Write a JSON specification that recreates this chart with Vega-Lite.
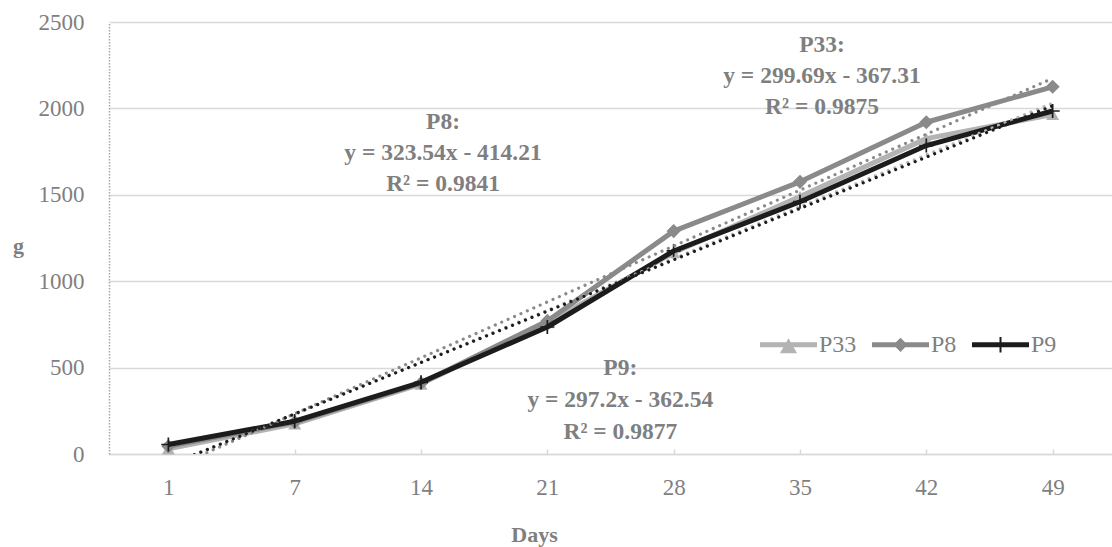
{
  "$schema": "https://vega.github.io/schema/vega-lite/v6.json",
  "autosize": {"type": "none"},
  "width": 1003,
  "height": 432,
  "padding": {"left": 109, "top": 22, "right": 0, "bottom": 93},
  "background": "white",
  "config": {
    "view": {"stroke": null},
    "font": "Liberation Serif"
  },
  "datasets": {
    "obs": [
      {"series": "P33", "day": 1, "value": 30},
      {"series": "P33", "day": 7, "value": 175},
      {"series": "P33", "day": 14, "value": 405},
      {"series": "P33", "day": 21, "value": 760},
      {"series": "P33", "day": 28, "value": 1165},
      {"series": "P33", "day": 35, "value": 1490},
      {"series": "P33", "day": 42, "value": 1825},
      {"series": "P33", "day": 49, "value": 1965},
      {"series": "P8", "day": 1, "value": 45},
      {"series": "P8", "day": 7, "value": 185},
      {"series": "P8", "day": 14, "value": 410},
      {"series": "P8", "day": 21, "value": 770},
      {"series": "P8", "day": 28, "value": 1290},
      {"series": "P8", "day": 35, "value": 1575},
      {"series": "P8", "day": 42, "value": 1920},
      {"series": "P8", "day": 49, "value": 2125},
      {"series": "P9", "day": 1, "value": 55},
      {"series": "P9", "day": 7, "value": 190},
      {"series": "P9", "day": 14, "value": 415},
      {"series": "P9", "day": 21, "value": 735},
      {"series": "P9", "day": 28, "value": 1175},
      {"series": "P9", "day": 35, "value": 1460},
      {"series": "P9", "day": 42, "value": 1785},
      {"series": "P9", "day": 49, "value": 1985}
    ],
    "trend": [
      {"series": "P33", "day": 1, "value": -67.62},
      {"series": "P33", "day": 49, "value": 2030.21},
      {"series": "P8", "day": 1, "value": -90.67},
      {"series": "P8", "day": 49, "value": 2174.11},
      {"series": "P9", "day": 1, "value": -65.34},
      {"series": "P9", "day": 49, "value": 2015.06}
    ],
    "notes": [
      {"series": "P8", "day": 14, "value": 1921, "label": "P8:\ny = 323.54x - 414.21\nR² = 0.9841"},
      {"series": "P33", "day": 35, "value": 2367, "label": "P33:\ny = 299.69x - 367.31\nR² = 0.9875"},
      {"series": "P9", "day": 21, "value": 498, "label": "P9:\ny  = 297.2x - 362.54\nR² = 0.9877"}
    ]
  },
  "encoding": {
    "x": {
      "field": "day", "type": "ordinal",
      "scale": {"type": "point", "domain": [1, 7, 14, 21, 28, 35, 42, 49], "padding": 0.47},
      "axis": {
        "labelAngle": 0, "labelFontSize": 23, "labelColor": "#7f7f7f", "labelFont": "Liberation Serif",
        "labelPadding": 27, "tickSize": -5, "tickColor": "#d9d9d9", "tickWidth": 1.5,
        "domainColor": "#d9d9d9", "domainWidth": 1.5, "grid": false,
        "title": "Days", "titleFont": "Liberation Serif", "titleFontSize": 22, "titleFontWeight": "bold",
        "titleColor": "#7f7f7f", "titleX": 425, "titleY": 80, "titleBaseline": "middle", "titleAlign": "center"
      }
    },
    "y": {
      "field": "value", "type": "quantitative",
      "scale": {"domain": [0, 2500], "nice": false},
      "axis": {
        "values": [0, 500, 1000, 1500, 2000, 2500], "format": "d",
        "labelFontSize": 23, "labelColor": "#7f7f7f", "labelFont": "Liberation Serif",
        "ticks": false, "labelPadding": 25,
        "domainColor": "#a6a6a6", "domainDash": [1.5, 1.5], "domainWidth": 1.5,
        "gridColor": "#d9d9d9", "gridWidth": 1.5,
        "title": "g", "titleFont": "Liberation Serif", "titleFontSize": 22, "titleFontWeight": "bold",
        "titleColor": "#7f7f7f", "titleAngle": 0, "titleX": -91, "titleY": 223,
        "titleAlign": "center", "titleBaseline": "middle"
      }
    }
  },
  "layer": [
    {
      "data": {"name": "obs"},
      "transform": [{"filter": "datum.series == 'P33'"}],
      "mark": {"type": "line", "color": "#b3b3b3", "strokeWidth": 5, "strokeJoin": "round"},
      "encoding": {}
    },
    {
      "data": {"name": "obs"},
      "transform": [{"filter": "datum.series == 'P33'"}],
      "mark": {"type": "point", "shape": "triangle-up", "filled": true, "color": "#b3b3b3", "size": 170, "opacity": 1}
    },
    {
      "data": {"name": "obs"},
      "transform": [{"filter": "datum.series == 'P8'"}],
      "mark": {"type": "line", "color": "#8a8a8a", "strokeWidth": 5, "strokeJoin": "round"},
      "encoding": {}
    },
    {
      "data": {"name": "obs"},
      "transform": [{"filter": "datum.series == 'P8'"}],
      "mark": {"type": "point", "shape": "diamond", "filled": true, "color": "#8a8a8a", "size": 200, "opacity": 1}
    },
    {
      "data": {"name": "obs"},
      "transform": [{"filter": "datum.series == 'P9'"}],
      "mark": {"type": "line", "color": "#1c1c1c", "strokeWidth": 5, "strokeJoin": "round"},
      "encoding": {}
    },
    {
      "data": {"name": "obs"},
      "transform": [{"filter": "datum.series == 'P9'"}],
      "mark": {"type": "point", "shape": "M-1,-0.12L1,-0.12L1,0.12L-1,0.12Z M-0.12,-1L0.12,-1L0.12,1L-0.12,1Z", "filled": true, "color": "#1c1c1c", "size": 200, "opacity": 1}
    },
    {
      "data": {"name": "trend"},
      "transform": [{"filter": "datum.series == 'P33'"}],
      "mark": {"type": "line", "clip": true, "color": "#b3b3b3", "strokeWidth": 3.2, "strokeDash": [0.01, 7], "strokeCap": "round"},
      "encoding": {}
    },
    {
      "data": {"name": "trend"},
      "transform": [{"filter": "datum.series == 'P8'"}],
      "mark": {"type": "line", "clip": true, "color": "#8a8a8a", "strokeWidth": 3.2, "strokeDash": [0.01, 7], "strokeCap": "round"},
      "encoding": {}
    },
    {
      "data": {"name": "trend"},
      "transform": [{"filter": "datum.series == 'P9'"}],
      "mark": {"type": "line", "clip": true, "color": "#1c1c1c", "strokeWidth": 3.2, "strokeDash": [0.01, 7], "strokeCap": "round"},
      "encoding": {}
    },
    {
      "data": {"name": "notes"},
      "transform": [{"filter": "datum.series == 'P8'"}],
      "mark": {"type": "text", "lineBreak": "\n", "dx": 22, "align": "center", "baseline": "middle", "lineHeight": 31, "fontSize": 23.5, "fontWeight": "bold", "color": "#7f7f7f", "font": "Liberation Serif"},
      "encoding": {"text": {"field": "label"}}
    },
    {
      "data": {"name": "notes"},
      "transform": [{"filter": "datum.series == 'P33'"}],
      "mark": {"type": "text", "lineBreak": "\n", "dx": 22, "align": "center", "baseline": "middle", "lineHeight": 31, "fontSize": 23.5, "fontWeight": "bold", "color": "#7f7f7f", "font": "Liberation Serif"},
      "encoding": {"text": {"field": "label"}}
    },
    {
      "data": {"name": "notes"},
      "transform": [{"filter": "datum.series == 'P9'"}],
      "mark": {"type": "text", "lineBreak": "\n", "dx": 73, "align": "center", "baseline": "middle", "lineHeight": 32, "fontSize": 23.5, "fontWeight": "bold", "color": "#7f7f7f", "font": "Liberation Serif"},
      "encoding": {"text": {"field": "label"}}
    },
    {
      "data": {"name": "obs"},
      "transform": [{"filter": "datum.value < -1"}],
      "mark": {"type": "point", "filled": true, "opacity": 1, "strokeWidth": 0},
      "encoding": {
        "color": {
          "field": "series", "type": "nominal",
          "scale": {"domain": ["P33", "P8", "P9"], "range": ["#b3b3b3", "#8a8a8a", "#1c1c1c"]},
          "legend": {
            "orient": "none", "legendX": 651, "legendY": 294, "direction": "horizontal",
            "title": null, "padding": 0, "symbolSize": 3249, "labelFontSize": 24,
            "labelColor": "#7f7f7f", "labelFont": "Liberation Serif", "labelOffset": 2, "columnPadding": 15,
            "symbolStrokeWidth": 0, "labelLimit": 200
          }
        },
        "shape": {
          "field": "series", "type": "nominal",
          "scale": {"domain": ["P33", "P8", "P9"], "range": [
            "M-1,-0.09L1,-0.09L1,0.09L-1,0.09Z M-0.3,0.3L0,-0.23L0.3,0.3Z",
            "M-1,-0.09L1,-0.09L1,0.09L-1,0.09Z M-0.25,0L0,-0.25L0.25,0L0,0.25Z",
            "M-1,-0.09L1,-0.09L1,0.09L-1,0.09Z M-0.035,-0.27L0.035,-0.27L0.035,0.27L-0.035,0.27Z"
          ]},
          "legend": {
            "orient": "none", "legendX": 651, "legendY": 294, "direction": "horizontal",
            "title": null, "padding": 0, "symbolSize": 3249, "labelFontSize": 24,
            "labelColor": "#7f7f7f", "labelFont": "Liberation Serif", "labelOffset": 2, "columnPadding": 15,
            "symbolStrokeWidth": 0, "labelLimit": 200
          }
        }
      }
    }
  ]
}
